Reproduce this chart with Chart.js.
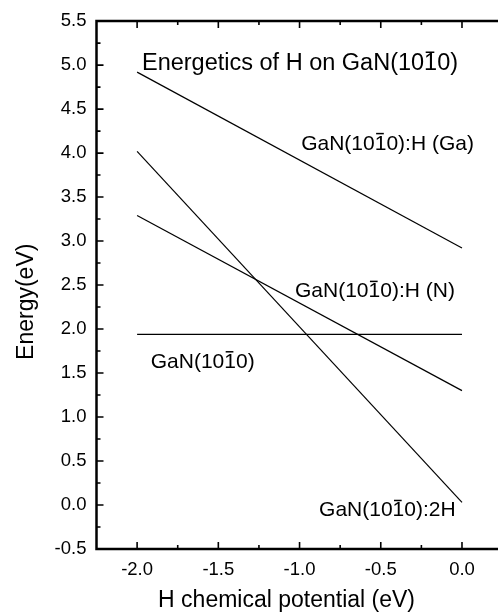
<!DOCTYPE html>
<html>
<head>
<meta charset="utf-8">
<script src="https://cdn.jsdelivr.net/npm/chart.js@4.4.1/dist/chart.umd.min.js"></script>
<style>
html, body { margin:0; padding:0; overflow:hidden; background:#fff; }
#wrap { width:510px; height:614px; position:relative; }
</style>
</head>
<body>
<div id="wrap"><canvas id="c"></canvas></div>
<script>
// ---- data ----
const muH = [-2.0, 0.0];                 // H chemical potential endpoints (eV)
const eGaH = [4.92, 2.92];               // GaN(10-10):H (Ga)
const eNH = [3.29, 1.30];                // GaN(10-10):H (N)
const e2H = [4.02, 0.03];                // GaN(10-10):2H
const eClean = [1.94, 1.94];             // GaN(10-10)

const xTicks = [-2.0, -1.5, -1.0, -0.5, 0.0];
const xMinor = [-1.75, -1.25, -0.75, -0.25];
const yTicks = [-0.5, 0.0, 0.5, 1.0, 1.5, 2.0, 2.5, 3.0, 3.5, 4.0, 4.5, 5.0, 5.5];
const yMinor = [-0.25, 0.25, 0.75, 1.25, 1.75, 2.25, 2.75, 3.25, 3.75, 4.25, 4.75, 5.25];

// text labels (anchored in data coordinates)
const labelPrefix = ['Energetics of H on GaN(', 'GaN(', 'GaN(', 'GaN(', 'GaN('];
const labelSuffix = [')', '):H (Ga)', '):H (N)', ')', '):2H'];
const labelX = [-1.97, -0.99, -1.028, -1.916, -0.88];
const labelY = [4.943, 4.04, 2.36, 1.56, -0.13];
const labelSize = [23.5, 21, 21, 21, 21];

const xTitle = 'H chemical potential (eV)';
const yTitle = 'Energy(eV)';

const FONT = '"Liberation Sans", Arial, Helvetica, sans-serif';

function pts(ys) { return muH.map((x, i) => ({ x: x, y: ys[i] })); }

const ds = (ys) => ({
  data: pts(ys), showLine: true, borderColor: '#000', borderWidth: 1.2,
  pointRadius: 0, fill: false, tension: 0
});

const decor = {
  id: 'decor',
  afterDraw(chart) {
    const { ctx, chartArea: a, scales: { x, y } } = chart;
    ctx.save();
    ctx.strokeStyle = '#000';
    ctx.lineCap = 'square';
    // frame: top, left, bottom (right side lies beyond the picture)
    ctx.lineWidth = 2.5;
    ctx.beginPath();
    ctx.moveTo(a.right + 10, a.top); ctx.lineTo(a.left, a.top);
    ctx.lineTo(a.left, a.bottom); ctx.lineTo(a.right + 10, a.bottom);
    ctx.stroke();
    // ticks (inward)
    ctx.lineWidth = 1.6;
    ctx.lineCap = 'butt';
    ctx.beginPath();
    const tx = (v, L) => {
      const p = x.getPixelForValue(v);
      ctx.moveTo(p, a.bottom); ctx.lineTo(p, a.bottom - L);
      ctx.moveTo(p, a.top); ctx.lineTo(p, a.top + L);
    };
    const ty = (v, L) => {
      const p = y.getPixelForValue(v);
      ctx.moveTo(a.left, p); ctx.lineTo(a.left + L, p);
    };
    xTicks.forEach(v => tx(v, 7));
    xMinor.forEach(v => tx(v, 4));
    yTicks.forEach(v => ty(v, 7));
    yMinor.forEach(v => ty(v, 4));
    ctx.stroke();

    // labels with overbar on the third Miller index digit
    ctx.fillStyle = '#000';
    ctx.textAlign = 'left';
    ctx.textBaseline = 'alphabetic';
    labelPrefix.forEach((pre, i) => {
      const fs = labelSize[i];
      ctx.font = fs + 'px ' + FONT;
      const px = x.getPixelForValue(labelX[i]);
      const py = y.getPixelForValue(labelY[i]);
      const text = pre + '1010' + labelSuffix[i];
      ctx.fillText(text, px, py);
      const w0 = ctx.measureText(pre + '10').width;
      const w1 = ctx.measureText('1').width;
      ctx.lineWidth = 1.5;
      ctx.beginPath();
      const by = py - fs * 0.76;
      ctx.moveTo(px + w0 + w1 * 0.12, by);
      ctx.lineTo(px + w0 + w1 * 0.78, by);
      ctx.stroke();
    });

    // axis titles
    ctx.font = '23px ' + FONT;
    ctx.textAlign = 'center';
    ctx.fillText(xTitle, x.getPixelForValue(-1.08), a.bottom + 57.5);
    ctx.save();
    ctx.translate(33, y.getPixelForValue(2.31));
    ctx.rotate(-Math.PI / 2);
    ctx.fillText(yTitle, 0, 0);
    ctx.restore();
    ctx.restore();
  }
};

new Chart(document.getElementById('c'), {
  type: 'scatter',
  data: { datasets: [ds(eGaH), ds(eNH), ds(e2H), ds(eClean)] },
  options: {
    responsive: true,
    maintainAspectRatio: false,
    animation: false,
    layout: { padding: { left: 0, right: 7.4, top: 16, bottom: 0 } },
    plugins: { legend: { display: false }, tooltip: { enabled: false } },
    scales: {
      x: {
        type: 'linear', min: -2.25, max: 0.25,
        grid: { display: false, drawTicks: false },
        border: { display: false },
        afterBuildTicks: s => { s.ticks = xTicks.map(v => ({ value: v })); },
        afterFit: s => { s.height = 65; },
        ticks: {
          color: '#000', padding: 10, maxRotation: 0, autoSkip: false,
          font: { family: FONT, size: 18.5 },
          callback: v => v.toFixed(1)
        }
      },
      y: {
        type: 'linear', min: -0.5, max: 5.5,
        grid: { display: false, drawTicks: false },
        border: { display: false },
        afterBuildTicks: s => { s.ticks = yTicks.map(v => ({ value: v })); },
        afterFit: s => { s.width = 96.5; },
        ticks: {
          color: '#000', padding: 10, autoSkip: false,
          font: { family: FONT, size: 18.5 },
          callback: v => v.toFixed(1)
        }
      }
    }
  },
  plugins: [decor]
});
</script>
</body>
</html>
